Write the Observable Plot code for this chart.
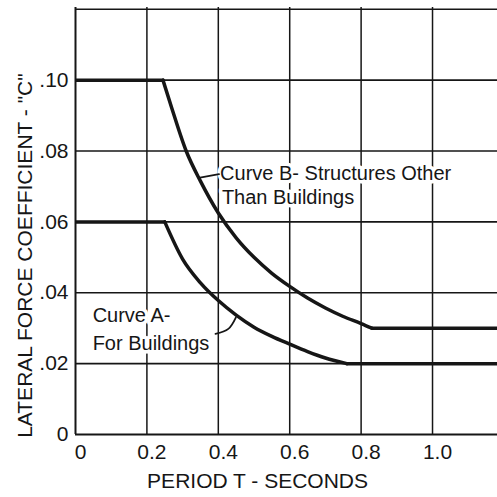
<!DOCTYPE html>
<html>
<head>
<meta charset="utf-8">
<script src="https://cdn.jsdelivr.net/npm/d3@7"></script>
<script src="https://cdn.jsdelivr.net/npm/@observablehq/plot@0.6"></script>
<style>
  html, body { margin: 0; padding: 0; background: #fff; }
  #chart svg { display: block; }
</style>
</head>
<body>
<div id="chart"></div>
<script>
// Curve A - For Buildings (period T in seconds, coefficient C)
const curveA_T = [0, 0.25, 0.30, 0.35, 0.40, 0.45, 0.50, 0.55, 0.60, 0.65, 0.70, 0.76, 1.2];
const curveA_C = [0.06, 0.06, 0.0495, 0.0428, 0.0378, 0.0337, 0.0303, 0.0277, 0.0255, 0.0234, 0.0216, 0.02, 0.02];
// Curve B - Structures Other Than Buildings
const curveB_T = [0, 0.245, 0.27, 0.31, 0.35, 0.40, 0.45, 0.50, 0.55, 0.60, 0.65, 0.70, 0.75, 0.80, 0.83, 1.2];
const curveB_C = [0.10, 0.10, 0.092, 0.080, 0.0715, 0.0625, 0.0555, 0.050, 0.0455, 0.0418, 0.0385, 0.0357, 0.0333, 0.0313, 0.030, 0.030];
// break points where the flat parts meet the falling curve
const cornersA = [0.25, 0.76];
const cornersB = [0.245, 0.83];
// Axes
const yTicks = [0, 0.02, 0.04, 0.06, 0.08, 0.10];
const yTickLabels = ["0", ".02", ".04", ".06", ".08", ".10"];
const yGrid = [0.02, 0.04, 0.06, 0.08, 0.10, 0.12];
const xTicks = [0, 0.2, 0.4, 0.6, 0.8, 1.0];
const xTickLabels = ["0", "0.2", "0.4", "0.6", "0.8", "1.0"];
const xGrid = [0.2, 0.4, 0.6, 0.8, 1.0];
const xTitle = "PERIOD T - SECONDS";
const yTitle = "LATERAL FORCE COEFFICIENT - \"C\"";
// Annotations (label text and data-space anchor)
const noteText = ["Curve B- Structures Other", "Than Buildings", "Curve A-", "For Buildings"];
const noteT = [0.405, 0.41, 0.048, 0.048];
const noteC = [0.0735, 0.0668, 0.0335, 0.0256];
// leader lines
const leaderB_T = [0.345, 0.402];
const leaderB_C = [0.0724, 0.0735];
const leaderA_T = [0.392, 0.428, 0.449];
const leaderA_C = [0.0284, 0.0298, 0.0330];

const toRows = (T, C) => T.map((t, i) => ({T: t, C: C[i]}));
const curveA = toRows(curveA_T, curveA_C);
const curveB = toRows(curveB_T, curveB_C);
const notes = noteText.map((s, i) => ({s, T: noteT[i], C: noteC[i]}));
const leaderB = toRows(leaderB_T, leaderB_C);
const leaderA = toRows(leaderA_T, leaderA_C);
const falling = (rows, c) => rows.filter(d => d.T >= c[0] && d.T <= c[1]);
const flat = (rows, c) => [rows.filter(d => d.T <= c[0]), rows.filter(d => d.T >= c[1])];

const ink = "#161616";
const font = "Liberation Sans, Arial, sans-serif";
const curveStyle = {x: "T", y: "C", stroke: ink, strokeWidth: 3.5, clip: true, strokeLinejoin: "round", strokeLinecap: "round"};

const chart = Plot.plot({
  width: 497,
  height: 497,
  marginLeft: 75,
  marginRight: 0,
  marginTop: 7,
  marginBottom: 63,
  style: {fontFamily: font, background: "#fff", color: ink},
  x: {domain: [0, 1.182], label: null},
  y: {domain: [0, 0.1205], label: null},
  marks: [
    Plot.ruleX(xGrid, {stroke: ink, strokeWidth: 1.5}),
    Plot.ruleY(yGrid, {stroke: ink, strokeWidth: 1.6}),
    Plot.ruleX([0], {stroke: ink, strokeWidth: 2}),
    Plot.ruleY([0], {stroke: ink, strokeWidth: 2}),
    Plot.axisY(yTicks, {tickSize: 0, tickPadding: 7, fontSize: 21, label: null,
      tickFormat: (d) => yTickLabels[yTicks.indexOf(d)]}),
    Plot.axisX(xTicks, {tickSize: 0, tickPadding: 10, fontSize: 21, label: null, dx: 5,
      tickFormat: (d) => xTickLabels[xTicks.indexOf(d)]}),
    Plot.text([xTitle], {frameAnchor: "bottom", x: () => 0.51, dy: 53, fontSize: 21,
      fill: ink, letterSpacing: "0.6px"}),
    Plot.text([yTitle], {frameAnchor: "left", y: () => 0.0505, dx: -50, rotate: -90,
      textAnchor: "middle", fontSize: 21, fill: ink, letterSpacing: "1.7px"}),
    Plot.text(notes, {x: "T", y: "C", text: "s", textAnchor: "start", fontSize: 20,
      fill: ink, stroke: "#fff", strokeWidth: 7, letterSpacing: "0.7px"}),
    Plot.line(leaderB, {x: "T", y: "C", stroke: ink, strokeWidth: 1.8}),
    Plot.line(leaderA, {x: "T", y: "C", stroke: ink, strokeWidth: 1.8, curve: "natural"}),
    ...flat(curveA, cornersA).map(rows => Plot.line(rows, curveStyle)),
    ...flat(curveB, cornersB).map(rows => Plot.line(rows, curveStyle)),
    Plot.line(falling(curveA, cornersA), {...curveStyle, curve: "monotone-x"}),
    Plot.line(falling(curveB, cornersB), {...curveStyle, curve: "monotone-x"})
  ]
});
document.getElementById("chart").appendChild(chart);
</script>
</body>
</html>
